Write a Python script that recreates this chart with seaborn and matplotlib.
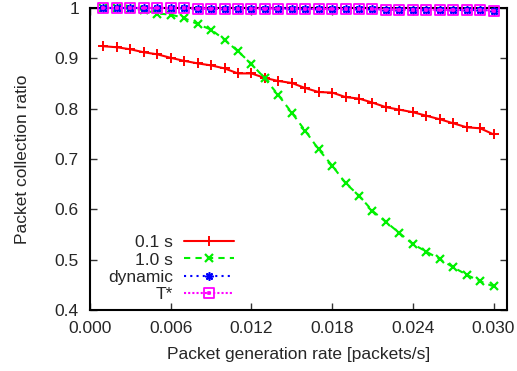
import numpy as np
import pandas as pd
import matplotlib
matplotlib.use("Agg")
import matplotlib.pyplot as plt
from matplotlib.path import Path
import seaborn as sns

rates = [round(0.001 * i, 3) for i in range(1, 31)]
ratio_01s = [0.924, 0.922, 0.918, 0.912, 0.908, 0.901, 0.895, 0.890, 0.886, 0.880,
             0.870, 0.870, 0.861, 0.855, 0.851, 0.841, 0.833, 0.832, 0.823, 0.820,
             0.812, 0.803, 0.798, 0.793, 0.786, 0.779, 0.771, 0.763, 0.761, 0.749]
ratio_10s = [1.000, 1.000, 0.999, 0.996, 0.989, 0.987, 0.980, 0.968, 0.957, 0.937,
             0.914, 0.889, 0.860, 0.827, 0.792, 0.756, 0.719, 0.687, 0.652, 0.627,
             0.597, 0.575, 0.553, 0.531, 0.516, 0.501, 0.485, 0.470, 0.457, 0.447]
ratio_dyn = [1.000, 1.000, 1.000, 1.000, 1.000, 1.000, 1.000, 0.999, 0.999, 0.999,
             0.999, 0.999, 0.999, 0.999, 0.999, 0.998, 0.998, 0.998, 0.998, 0.998,
             0.998, 0.997, 0.997, 0.997, 0.997, 0.996, 0.996, 0.996, 0.996, 0.995]
ratio_tstar = [1.000, 1.000, 1.000, 1.000, 1.000, 1.000, 1.000, 0.999, 0.999, 0.999,
               0.999, 0.999, 0.999, 0.999, 0.999, 0.998, 0.998, 0.998, 0.998, 0.998,
               0.998, 0.997, 0.997, 0.997, 0.997, 0.996, 0.996, 0.996, 0.996, 0.995]
series_names = ["0.1 s", "1.0 s", "dynamic", "T*"]
x_ticks = [0.000, 0.006, 0.012, 0.018, 0.024, 0.030]
y_ticks = [0.4, 0.5, 0.6, 0.7, 0.8, 0.9, 1.0]

df = pd.DataFrame({
    "rate": rates * 4,
    "ratio": ratio_01s + ratio_10s + ratio_dyn + ratio_tstar,
    "series": sum([[n] * len(rates) for n in series_names], []),
})

sns.set_style("ticks")
plt.rcParams["font.family"] = ["Liberation Sans", "DejaVu Sans"]
FS = 12.5
plt.rcParams["font.size"] = FS

# square with center dot marker
sq = [(-1, -1), (1, -1), (1, 1), (-1, 1), (-1, -1)]
dt = [(-0.12, -0.12), (0.12, -0.12), (0.12, 0.12), (-0.12, 0.12), (-0.12, -0.12)]
verts = sq + dt
codes = [Path.MOVETO] + [Path.LINETO] * 3 + [Path.CLOSEPOLY] + [Path.MOVETO] + [Path.LINETO] * 3 + [Path.CLOSEPOLY]
sqdot = Path(verts, codes)

styles = {
    "0.1 s": dict(color="#ff0000", linestyle="-", marker="+", markersize=6.5, mew=1.4),
    "1.0 s": dict(color="#00f000", linestyle=(0, (3, 2.5)), marker="x", markersize=5.5, mew=1.6),
    "dynamic": dict(color="#0000ff", linestyle=(0, (1, 2)), marker=(8, 2, 0), markersize=6, mew=1.2),
    "T*": dict(color="#ff00ff", linestyle=(0, (1, 1)), marker=sqdot, markersize=6.5, mew=1.3,
               markerfacecolor="none"),
}

fig = plt.figure(figsize=(5.17, 3.71), dpi=100)
ax = fig.add_axes([90 / 517, 1 - 310 / 371, 417 / 517, 302 / 371])

for name in series_names:
    sub = df[df["series"] == name]
    st = styles[name]
    sns.lineplot(data=sub, x="rate", y="ratio", ax=ax, label=name,
                 color=st["color"], linestyle=st["linestyle"], linewidth=1.5,
                 marker=st["marker"], markersize=st["markersize"],
                 markeredgewidth=st["mew"], markeredgecolor=st["color"],
                 markerfacecolor=st.get("markerfacecolor", st["color"]),
                 clip_on=False, zorder=3)

ax.set_xlim(0.0, 0.031)
ax.set_ylim(0.4, 1.0)
ax.set_xticks(x_ticks)
ax.set_xticklabels([f"{v:.3f}" for v in x_ticks])
ax.set_yticks(y_ticks)
ax.set_yticklabels(["0.4", "0.5", "0.6", "0.7", "0.8", "0.9", "1"])
ax.tick_params(direction="in", length=5, width=1, top=True, right=True,
               labelsize=FS, pad=8, color="#333333")
for s in ax.spines.values():
    s.set_linewidth(1.5)
    s.set_color("black")
ax.set_xlabel("Packet generation rate [packets/s]", fontsize=FS, labelpad=8)
ax.set_ylabel("Packet collection ratio", fontsize=FS, labelpad=18)

leg = ax.legend(loc="lower right", bbox_to_anchor=(234 / 517, 1 - 302 / 371),
                bbox_transform=fig.transFigure, frameon=False, markerfirst=False,
                handlelength=2.9, handletextpad=0.6, labelspacing=0.12,
                borderpad=0, borderaxespad=0, fontsize=FS)

fig.savefig("out.png", dpi=100)
